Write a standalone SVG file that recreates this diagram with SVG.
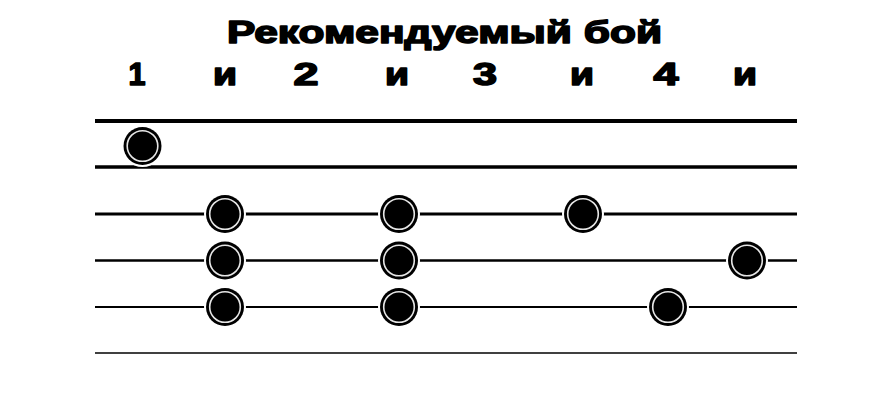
<svg xmlns="http://www.w3.org/2000/svg" width="896" height="400" viewBox="0 0 896 400">
<style>
.t{font-family:"Liberation Sans",Arial,sans-serif;font-weight:bold;fill:#000;stroke:#000;stroke-width:1.6;stroke-linejoin:round}
.b{text-anchor:middle;font-size:31px}
.s{stroke:#000;fill:none}
</style>
<defs>
<g id="dot">
<circle r="21" fill="#fff"/>
<circle r="19" fill="#000"/>
<circle r="15.3" fill="none" stroke="#e6e6e6" stroke-width="1.6"/>
</g>
</defs>
<rect width="896" height="400" fill="#fff"/>
<g id="title">
<text class="t" x="227" y="43" font-size="31" textLength="435" lengthAdjust="spacingAndGlyphs">Рекомендуемый бой</text>
</g>
<g id="beats">
<text class="t b" x="137" y="85" textLength="17" lengthAdjust="spacingAndGlyphs">1</text>
<text class="t b" x="225" y="85" textLength="24" lengthAdjust="spacingAndGlyphs">и</text>
<text class="t b" x="306" y="85" textLength="25" lengthAdjust="spacingAndGlyphs">2</text>
<text class="t b" x="397" y="85" textLength="24" lengthAdjust="spacingAndGlyphs">и</text>
<text class="t b" x="485" y="85" textLength="24" lengthAdjust="spacingAndGlyphs">3</text>
<text class="t b" x="582" y="85" textLength="24" lengthAdjust="spacingAndGlyphs">и</text>
<text class="t b" x="666" y="85" textLength="25" lengthAdjust="spacingAndGlyphs">4</text>
<text class="t b" x="745" y="85" textLength="24" lengthAdjust="spacingAndGlyphs">и</text>
</g>
<g id="strings">
<line class="s" x1="95" y1="121" x2="797" y2="121" stroke-width="4"/>
<line class="s" x1="95" y1="167" x2="797" y2="167" stroke-width="3.5"/>
<line class="s" x1="95" y1="214" x2="797" y2="214" stroke-width="3"/>
<line class="s" x1="95" y1="260.5" x2="797" y2="260.5" stroke-width="2.5"/>
<line class="s" x1="95" y1="307" x2="797" y2="307" stroke-width="2"/>
<line class="s" x1="95" y1="353" x2="797" y2="353" stroke-width="1.7"/>
</g>
<g id="d1"><use href="#dot" x="142.5" y="146"/></g>
<g id="d2"><use href="#dot" x="225" y="214"/></g>
<g id="d3"><use href="#dot" x="225" y="260.5"/></g>
<g id="d4"><use href="#dot" x="225" y="307"/></g>
<g id="d5"><use href="#dot" x="399" y="214"/></g>
<g id="d6"><use href="#dot" x="399" y="260.5"/></g>
<g id="d7"><use href="#dot" x="399" y="307"/></g>
<g id="d8"><use href="#dot" x="583" y="214"/></g>
<g id="d9"><use href="#dot" x="747" y="260.5"/></g>
<g id="d10"><use href="#dot" x="668" y="307"/></g>
</svg>
